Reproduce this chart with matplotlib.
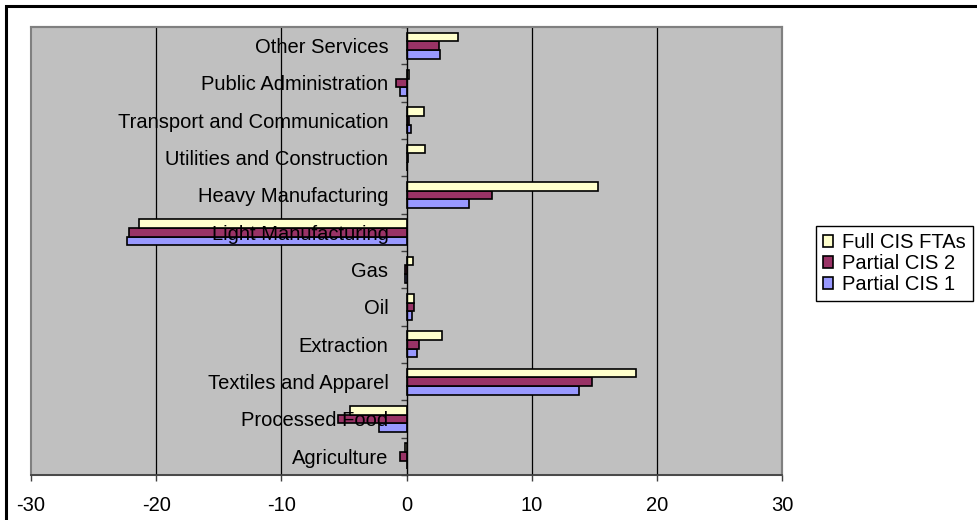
"""
CIS FTA scenarios — sectoral output change, horizontal grouped bars.
"""

import matplotlib.pyplot as plt
import numpy as np
from matplotlib.patches import Rectangle

plt.rcParams["font.family"] = ["Liberation Sans", "DejaVu Sans"]

# ── Data ──────────────────────────────────────────────────────────────────────
sectors = [
    "Agriculture", "Processed Food", "Textiles and Apparel", "Extraction",
    "Oil", "Gas", "Light Manufacturing", "Heavy Manufacturing",
    "Utilities and Construction", "Transport and Communication",
    "Public Administration", "Other Services",
]
partial_cis_1 = [0.0, -2.2, 13.8, 0.8, 0.4, -0.1, -22.3, 5.0, 0.0, 0.35, -0.55, 2.7]
partial_cis_2 = [-0.55, -5.5, 14.8, 1.0, 0.6, -0.1, -22.2, 6.8, 0.1, 0.2, -0.8, 2.6]
full_cis_ftas = [-0.1, -4.5, 18.35, 2.8, 0.6, 0.5, -21.4, 15.3, 1.5, 1.4, 0.2, 4.1]
x_ticks = [-30, -20, -10, 0, 10, 20, 30]
grid_at = [-20, -10, 10, 20]

# ── Figure ────────────────────────────────────────────────────────────────────
W, H = 977, 520
fig = plt.figure(figsize=(W / 100, H / 100), dpi=100)
ax = fig.add_axes([31 / W, 1 - 475 / H, (782 - 31) / W, (475 - 27) / H])

FS = 14.5
bh = 0.233
y = np.arange(len(sectors))

series = [
    (partial_cis_1, -bh, "#9999FF", "Partial CIS 1"),
    (partial_cis_2, 0.0, "#993366", "Partial CIS 2"),
    (full_cis_ftas, bh, "#FFFFCC", "Full CIS FTAs"),
]
handles = {}
for vals, off, col, lab in series:
    handles[lab] = ax.barh(y + off, vals, height=bh, color=col, zorder=1,
                           edgecolor="black", linewidth=1.2, label=lab)

# gridlines behind bars, axis labels stay on top (as in Excel)
for g in grid_at:
    ax.axvline(g, color="black", linewidth=0.9, zorder=0.5)

ax.set_facecolor("#C0C0C0")
ax.set_xlim(-30, 30)
ax.set_ylim(-0.5, len(sectors) - 0.5)
ax.set_xticks(x_ticks)
ax.set_xticklabels([str(t) for t in x_ticks], fontsize=FS)

# category axis sits on zero
ax.spines["left"].set_position(("data", 0))
ax.spines["left"].set_color("black")
ax.spines["left"].set_linewidth(1.0)
ax.spines["bottom"].set_color("#404040")
ax.spines["bottom"].set_linewidth(1.2)
for s in ("top", "right"):
    ax.spines[s].set_color("#808080")
    ax.spines[s].set_linewidth(1.5)
ax.patch.set_edgecolor("#808080")
ax.patch.set_linewidth(1.5)

ax.set_yticks(y)
ax.set_yticklabels(sectors, fontsize=FS)
ax.set_yticks(np.arange(-0.5, len(sectors), 1.0), minor=True)
ax.tick_params(axis="y", which="major", length=0, pad=13)
ax.tick_params(axis="y", which="minor", length=4, width=1, color="#404040", direction="out")
ax.tick_params(axis="x", length=4, width=1, color="#404040", pad=11)

leg = ax.legend(
    [handles["Full CIS FTAs"], handles["Partial CIS 2"], handles["Partial CIS 1"]],
    ["Full CIS FTAs", "Partial CIS 2", "Partial CIS 1"],
    loc="upper left", bbox_to_anchor=(816 / W, 1 - 226 / H),
    bbox_transform=fig.transFigure, fontsize=FS, frameon=True, fancybox=False,
    edgecolor="black", framealpha=1, handlelength=0.5, handleheight=0.5,
    handletextpad=0.45, labelspacing=0.1, borderpad=0.35, borderaxespad=0,
)
leg.get_frame().set_linewidth(1.0)

# outer chart border
fig.patches.append(Rectangle((6 / W, -0.1), 1.2, 1.1 - 6.5 / H, transform=fig.transFigure,
                             fill=False, edgecolor="black", linewidth=2.2))

fig.savefig("out.png", dpi=100)
